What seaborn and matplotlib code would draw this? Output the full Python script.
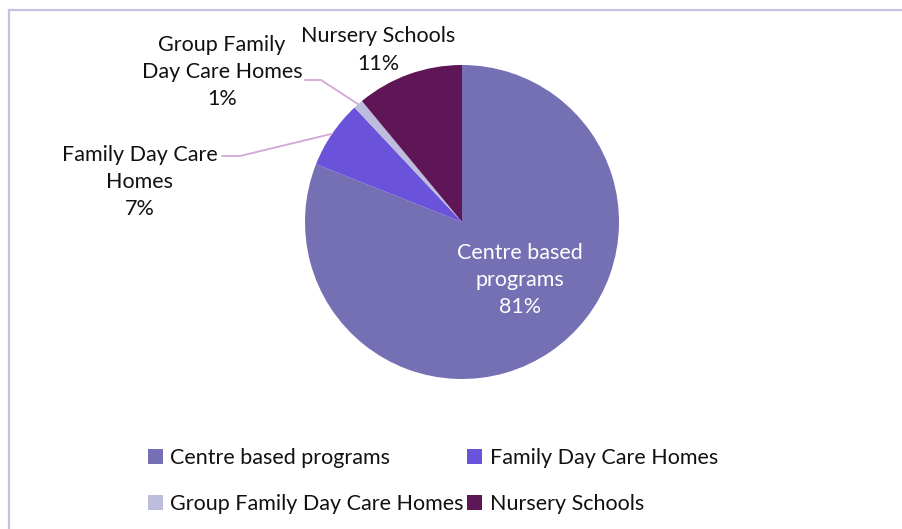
import numpy as np
import matplotlib.pyplot as plt
import seaborn as sns
from matplotlib.patches import Rectangle

# Data
categories = ['Centre based programs', 'Family Day Care Homes',
              'Group Family Day Care Homes', 'Nursery Schools']
shares = [81, 7, 1, 11]
pie_labels = ['Centre based\nprograms', 'Family Day Care\nHomes',
              'Group Family\nDay Care Homes', 'Nursery Schools']

colors = sns.color_palette(['#7570b3', '#6a52da', '#bcbddc', '#5e1656'])

sns.set_theme(style='white')
plt.rcParams['font.family'] = ['Lato', 'DejaVu Sans']

W, H = 902, 529
fig = plt.figure(figsize=(W / 100, H / 100), dpi=100)
ax = fig.add_axes([0, 0, 1, 1])

# outer frame (only top and left edges fall inside the image)
fig.patches.append(Rectangle((8.5 / W, -0.1), 1.2, 1.1 - 9.5 / H,
                             transform=fig.transFigure, fill=False,
                             edgecolor='#c5c3e2', linewidth=1.6))

cx, cy, r = 462, 222, 157
# y axis is inverted, so counterclock=True draws clockwise on screen
wedges, _ = ax.pie(shares, colors=colors, startangle=-90, counterclock=True,
                   center=(cx, cy), radius=r, frame=True,
                   wedgeprops=dict(linewidth=0))
ax.set_xlim(0, W)
ax.set_ylim(H, 0)
ax.set_aspect('equal')
ax.axis('off')

fs = 15.5
total = sum(shares)
pct = [f'{round(100 * v / total)}%' for v in shares]

# label positions (layout only)
label_pos = [(520, 280), (140, 182), (222, 72), (378, 50)]
label_col = ['white', '#111111', '#111111', '#111111']
for lab, p, (x, y), c in zip(pie_labels, pct, label_pos, label_col):
    ax.text(x, y, f'{lab}\n{p}', ha='center', va='center', fontsize=fs,
            color=c, linespacing=1.45)

# leader lines from the small slices to their labels
def edge_point(w, frac=1.0):
    ang = np.deg2rad((w.theta1 + w.theta2) / 2)
    return cx + frac * r * np.cos(ang), cy + frac * r * np.sin(ang)

ex, ey = edge_point(wedges[1])
ax.plot([222, 240, ex], [156, 156, ey], color='#d4a6da', lw=1.3)
ex, ey = edge_point(wedges[2])
ax.plot([305, 321, ex], [80, 80, ey], color='#d4a6da', lw=1.3)

# legend filled row by row: Centre, Family / Group, Nursery
order = [0, 2, 1, 3]
leg = fig.legend([wedges[i] for i in order], [categories[i] for i in order],
                 ncol=2, frameon=False, fontsize=fs, labelcolor='#111111',
                 loc='center', bbox_to_anchor=(0.48, 0.09),
                 handlelength=0.7, handleheight=0.7, handletextpad=0.35,
                 columnspacing=0.15, labelspacing=1.2)

fig.savefig('out.png', dpi=100)
